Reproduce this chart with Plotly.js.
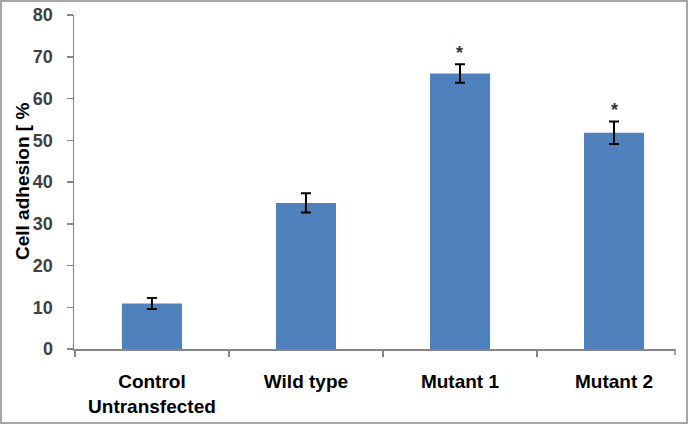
<!DOCTYPE html>
<html>
<head>
<meta charset="utf-8">
<script src="https://cdn.plot.ly/plotly-3.0.1.min.js"></script>
<style>
html,body{margin:0;padding:0;background:#fff;}
#wrap{position:relative;width:688px;height:424px;}
#chart{position:absolute;left:0;top:0;width:688px;height:424px;}
#frame{position:absolute;left:0;top:0;width:684px;height:420px;border:2px solid #a6a6a6;pointer-events:none;}
</style>
</head>
<body>
<div id="wrap"><div id="chart"></div><div id="frame"></div></div>
<script>
const categories = ["Control<br>Untransfected", "Wild type", "Mutant 1", "Mutant 2"];
const adhesion = [10.9, 35.0, 66.0, 51.8];
const errors = [1.3, 2.3, 2.2, 2.7];
const significance = ["", "", "*", "*"];
const yTicks = [0, 10, 20, 30, 40, 50, 60, 70, 80];

const trace = {
  type: "bar",
  x: categories,
  y: adhesion,
  width: 0.39,
  marker: {color: "#4F81BD", line: {width: 0}},
  error_y: {type: "data", array: errors, visible: true, color: "#000000", thickness: 2, width: 5},
  hoverinfo: "none"
};

const annotations = [];
categories.forEach((c, i) => {
  if (significance[i]) {
    annotations.push({
      x: c, y: adhesion[i] + errors[i], xref: "x", yref: "y",
      text: significance[i], showarrow: false, yshift: 11,
      font: {family: "Liberation Sans, Arial, sans-serif", size: 18, color: "#333333", weight: "bold"}
    });
  }
});
annotations.push({
  xref: "paper", yref: "paper", x: -0.0865, y: 0.5,
  xanchor: "center", yanchor: "middle",
  text: "<b>Cell adhesion [ %</b>", textangle: -90, showarrow: false,
  font: {family: "Liberation Sans, Arial, sans-serif", size: 19, color: "#000000"}
});

const layout = {
  width: 688, height: 424,
  margin: {l: 74, r: 13, t: 15, b: 75},
  paper_bgcolor: "#ffffff", plot_bgcolor: "#ffffff",
  showlegend: false,
  font: {family: "Liberation Sans, Arial, sans-serif"},
  xaxis: {
    type: "category",
    range: [-0.506, 3.396],
    showline: true, linecolor: "#868686", linewidth: 1.5,
    ticks: "outside", tickson: "boundaries", ticklen: 6, tickcolor: "#868686", tickwidth: 1.5,
    ticklabelstandoff: 15,
    tickfont: {size: 19, color: "#000000", weight: "bold"},
    showgrid: false, zeroline: false
  },
  yaxis: {
    range: [0, 80],
    tickvals: yTicks,
    ticktext: yTicks.map(String),
    showline: true, linecolor: "#868686", linewidth: 1.5,
    ticks: "outside", ticklen: 6, tickcolor: "#868686", tickwidth: 1.5,
    ticklabelstandoff: 10,
    tickfont: {size: 18, color: "#404040", weight: "bold"},
    showgrid: false, zeroline: false
  },
  shapes: [{
    type: "line", xref: "x domain", yref: "paper",
    x0: 1, x1: 1, y0: 0, y1: -0.018,
    line: {color: "#868686", width: 1.5}
  }],
  annotations: annotations
};

Plotly.newPlot("chart", [trace], layout, {displayModeBar: false, staticPlot: true});
</script>
</body>
</html>
